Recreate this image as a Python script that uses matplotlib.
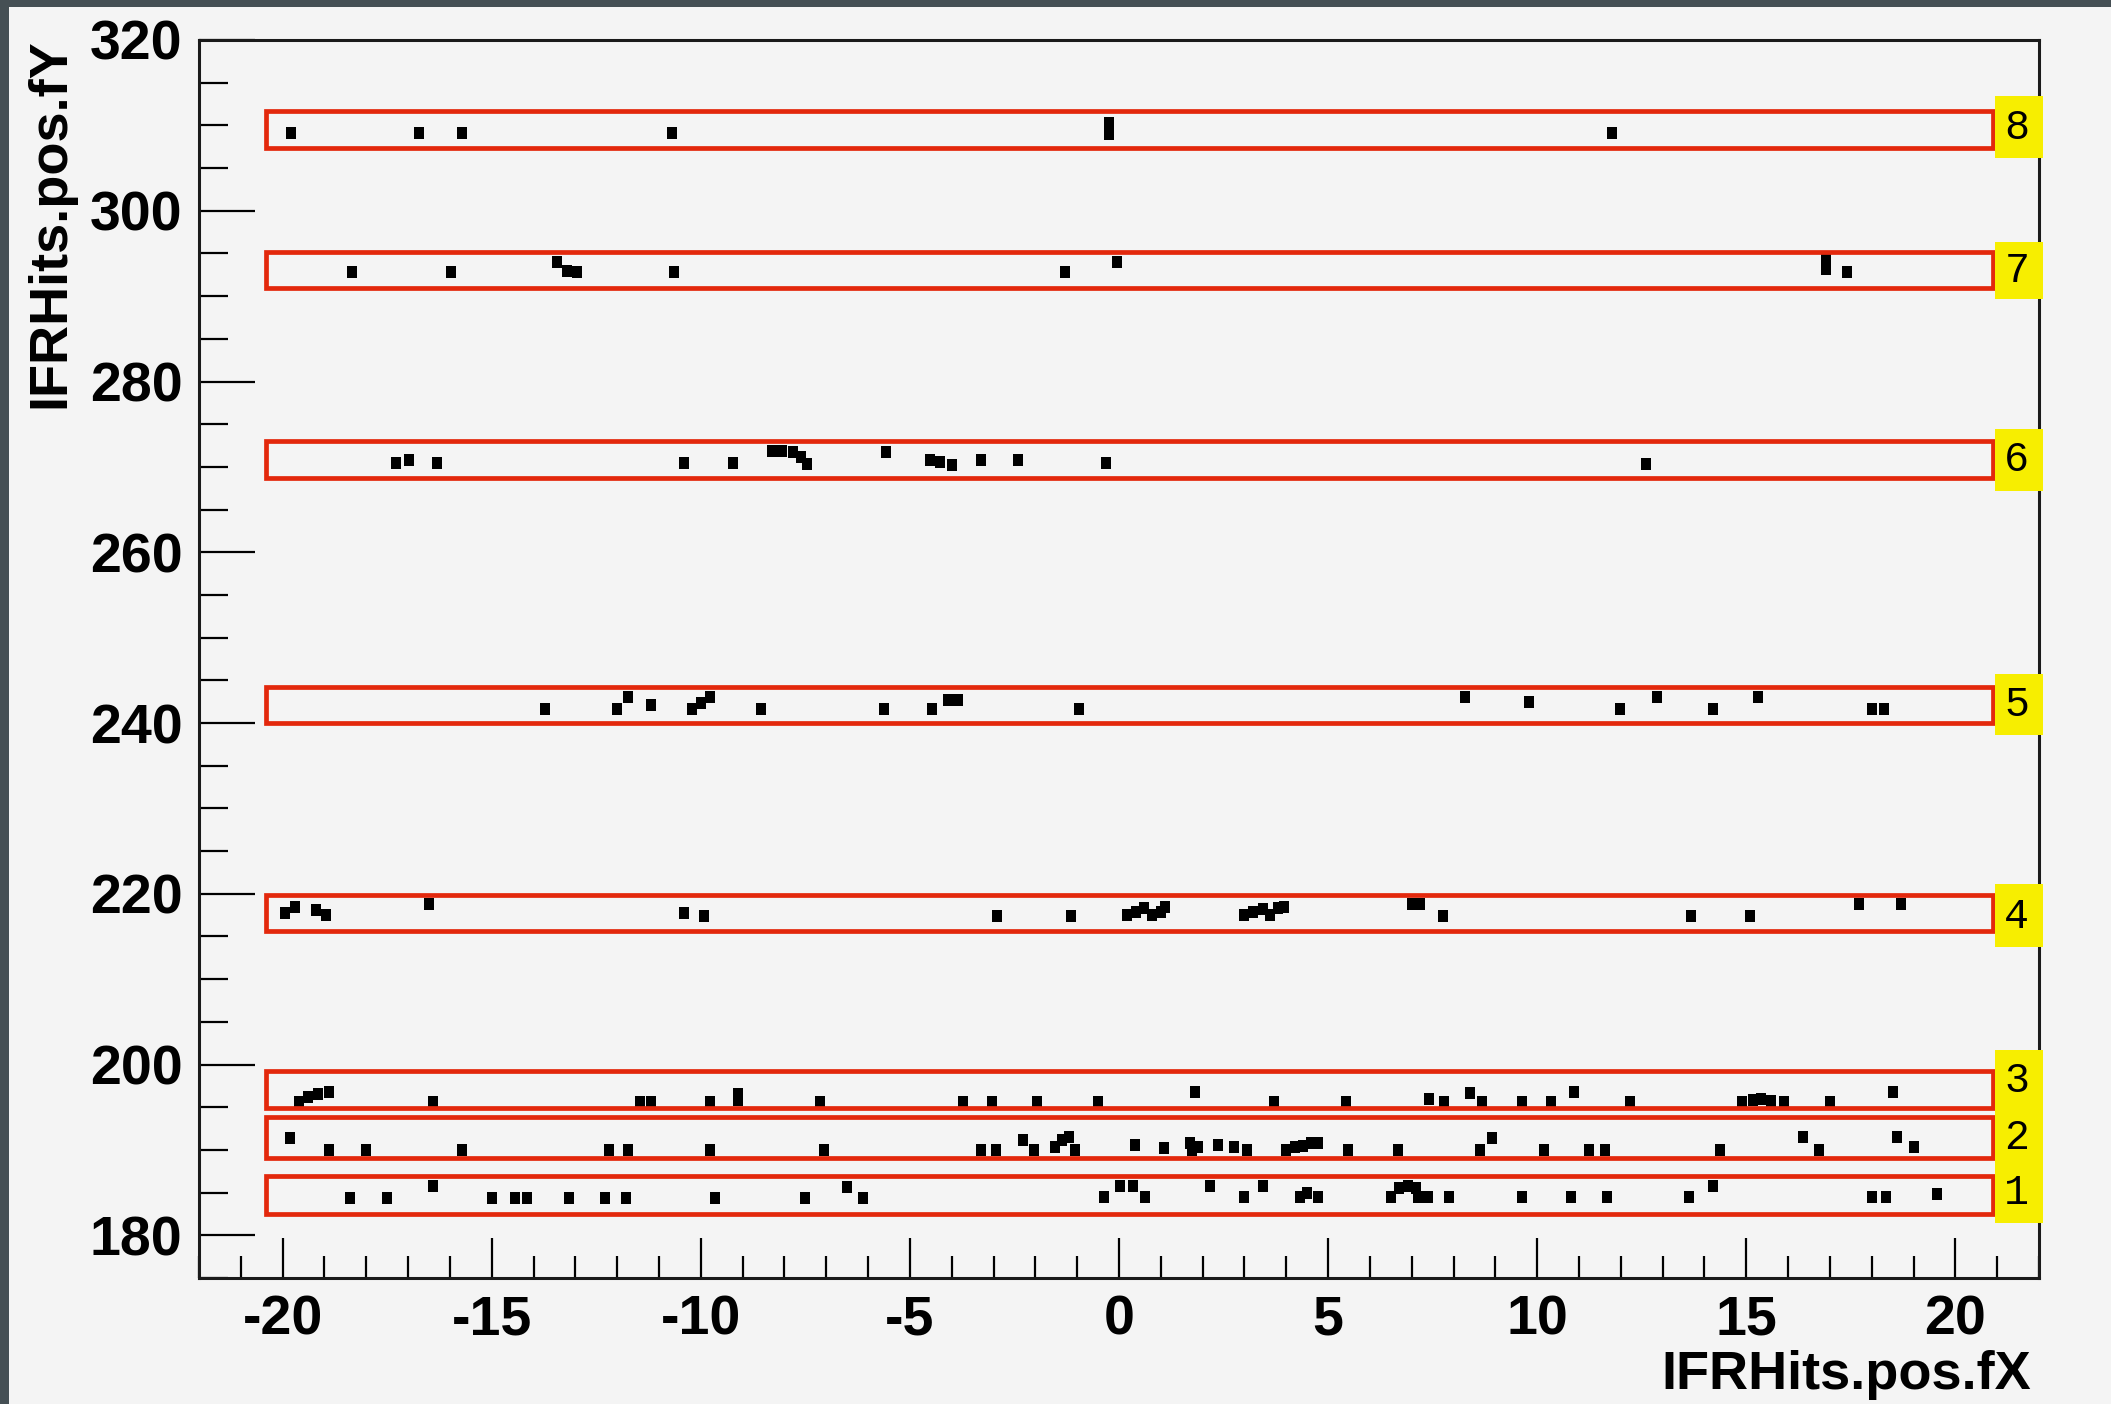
import matplotlib
matplotlib.use("Agg")
import matplotlib.pyplot as plt
from matplotlib.patches import Rectangle
from matplotlib.ticker import MultipleLocator

plt.rcParams['axes.unicode_minus'] = False
plt.rcParams['font.family'] = 'Liberation Sans'

# hits per IFR layer (x = IFRHits.pos.fX, y = IFRHits.pos.fY)
l8_x = [-19.8, -16.75, -15.7, -10.7, -0.24, -0.24, 11.8]
l8_y = [309.1, 309.1, 309.1, 309.1, 310.3, 309.0, 309.1]

l7_x = [-18.35, -15.97, -13.45, -13.2, -12.95, -10.65, -1.3, -0.05, 16.9, 16.9, 17.4]
l7_y = [292.8, 292.8, 294.0, 292.9, 292.8, 292.8, 292.8, 294.0, 294.2, 293.2, 292.8]

l6_x = [-17.3, -16.97, -16.3, -10.4, -9.24, -8.3, -8.05, -7.8, -7.6, -7.45,
        -5.56, -4.53, -4.27, -3.99, -3.29, -2.41, -0.31, 12.6]
l6_y = [270.5, 270.8, 270.4, 270.4, 270.4, 271.9, 271.9, 271.7, 271.2, 270.3,
        271.8, 270.8, 270.6, 270.2, 270.8, 270.8, 270.4, 270.3]

l5_x = [-13.72, -12.0, -11.74, -11.2, -10.2, -10.0, -9.77, -8.57, -5.63, -4.46,
        -4.1, -3.85, -0.95, 8.28, 9.81, 11.98, 12.86, 14.2, 15.27, 18.0, 18.3]
l5_y = [241.7, 241.7, 243.1, 242.1, 241.6, 242.3, 243.1, 241.7, 241.7, 241.7,
        242.7, 242.7, 241.7, 243.0, 242.5, 241.7, 243.0, 241.7, 243.0, 241.7, 241.7]

l4_x = [-19.95, -19.7, -19.2, -18.97, -16.5, -10.4, -9.93, -2.91, -1.14, 0.2,
        0.4, 0.6, 0.8, 1.0, 1.1, 3.0, 3.2, 3.45, 3.6, 3.8, 3.95, 7.0, 7.2,
        7.75, 13.68, 15.1, 17.7, 18.7]
l4_y = [217.8, 218.5, 218.1, 217.5, 218.8, 217.8, 217.4, 217.4, 217.4, 217.5,
        217.9, 218.3, 217.5, 217.9, 218.4, 217.5, 217.9, 218.2, 217.5, 218.3, 218.5, 218.8, 218.8,
        217.4, 217.4, 217.4, 218.8, 218.8]

l3_x = [-19.6, -19.4, -19.15, -18.9, -16.4, -11.45, -11.2, -9.77, -9.1, -9.1,
        -7.14, -3.72, -3.03, -1.96, -0.5, 1.81, 3.7, 5.42, 7.42, 7.78, 8.4,
        8.69, 9.64, 10.33, 10.88, 12.22, 14.9, 15.15, 15.35, 15.6, 15.9, 17.0, 18.5]
l3_y = [195.6, 196.2, 196.6, 196.8, 195.6, 195.6, 195.6, 195.6, 196.5, 195.8,
        195.6, 195.6, 195.6, 195.6, 195.6, 196.8, 195.6, 195.6, 196.0, 195.6, 196.7,
        195.6, 195.6, 195.6, 196.8, 195.6, 195.6, 195.9, 196.0, 195.7, 195.6, 195.6, 196.8]

l2_x = [-19.83, -18.9, -18.0, -15.7, -12.2, -11.74, -9.77, -7.06, -3.3, -2.94,
        -2.3, -2.03, -1.53, -1.36, -1.2, -1.05, 0.38, 1.07, 1.7, 1.9, 1.75,
        2.36, 2.75, 3.05, 4.0, 4.2, 4.4, 4.6, 4.75, 5.47, 6.68, 8.64, 8.92,
        10.17, 11.24, 11.62, 14.37, 16.35, 16.75, 18.6, 19.0]
l2_y = [191.4, 190.0, 190.0, 190.0, 190.0, 190.0, 190.0, 190.0, 190.0, 190.0,
        191.2, 190.0, 190.3, 191.2, 191.5, 190.0, 190.6, 190.2, 190.8, 190.3, 190.0,
        190.6, 190.4, 190.0, 190.0, 190.3, 190.5, 190.8, 190.8, 190.0, 190.0, 190.0, 191.4,
        190.0, 190.0, 190.0, 190.0, 191.5, 190.0, 191.5, 190.4]

l1_x = [-18.4, -17.5, -16.4, -15.0, -14.45, -14.15, -13.15, -12.3, -11.8, -9.67,
        -7.5, -6.5, -6.13, -0.36, 0.02, 0.33, 0.62, 2.17, 3.0, 3.44, 4.32, 4.5,
        4.75, 6.5, 6.7, 6.9, 7.1, 7.15, 7.4, 7.9, 9.64, 10.81, 11.67, 13.63,
        14.2, 18.0, 18.35, 19.55]
l1_y = [184.4, 184.4, 185.8, 184.4, 184.4, 184.4, 184.4, 184.4, 184.4, 184.4,
        184.4, 185.6, 184.4, 184.5, 185.8, 185.8, 184.5, 185.8, 184.5, 185.8, 184.5, 184.9,
        184.5, 184.5, 185.5, 185.8, 185.5, 184.5, 184.5, 184.5, 184.5, 184.5, 184.5, 184.5,
        185.8, 184.5, 184.5, 184.8]

layers_x = [l1_x, l2_x, l3_x, l4_x, l5_x, l6_x, l7_x, l8_x]
layers_y = [l1_y, l2_y, l3_y, l4_y, l5_y, l6_y, l7_y, l8_y]

# red layer boxes (bottom, top) and yellow tags
box_labels = ['1', '2', '3', '4', '5', '6', '7', '8']
box_lo = [182.5, 189.1, 194.9, 215.6, 240.0, 268.7, 291.0, 307.3]
box_hi = [186.9, 193.8, 199.3, 219.9, 244.2, 273.0, 295.2, 311.7]
label_y = [184.9, 191.4, 198.1, 217.3, 242.1, 270.8, 293.0, 309.7]
tag_lo = [181.5, 213.8, 238.6, 267.2, 289.7, 306.2]
tag_hi = [201.7, 221.1, 245.8, 274.4, 296.3, 313.4]

W, H = 2111, 1404
fig = plt.figure(figsize=(W / 100, H / 100), dpi=100)
fig.patch.set_facecolor('#454f54')
fig.add_artist(Rectangle((9 / W, 0), 1, 1 - 7 / H, transform=fig.transFigure,
                         facecolor='#f4f4f4', edgecolor='none', zorder=0))

ax = fig.add_axes([199 / W, 1 - 1278 / H, (2039 - 199) / W, (1278 - 40) / H])
ax.set_facecolor('#f4f4f4')
ax.set_xlim(-22, 22)
ax.set_ylim(175, 320)

# ROOT-style hit marker: a small box, a bit taller than wide
hit = [(-0.4, -0.5), (0.4, -0.5), (0.4, 0.5), (-0.4, 0.5)]
for xs, ys in zip(layers_x, layers_y):
    ax.plot(xs, ys, linestyle='none', marker=hit, color='black',
            markersize=8.5, markeredgewidth=0, zorder=4)

for lo, hi in zip(box_lo, box_hi):
    ax.add_patch(Rectangle((-20.4, lo), 41.3, hi - lo, fill=False,
                           edgecolor='#e3280c', linewidth=3.4, zorder=5))
for lo, hi in zip(tag_lo, tag_hi):
    ax.add_patch(Rectangle((20.95, lo), 1.15, hi - lo, facecolor='#f7ee00',
                           edgecolor='none', zorder=6, clip_on=False))
for lab, yy in zip(box_labels, label_y):
    ax.text(21.47, yy, lab, ha='center', va='center', fontsize=30,
            family='Liberation Mono', zorder=7, clip_on=False)

ax.xaxis.set_major_locator(MultipleLocator(5))
ax.xaxis.set_minor_locator(MultipleLocator(1))
ax.yaxis.set_major_locator(MultipleLocator(20))
ax.yaxis.set_minor_locator(MultipleLocator(5))
ax.tick_params(axis='x', which='major', direction='in', length=29, width=1.6,
               labelsize=40, pad=12, top=False)
ax.tick_params(axis='x', which='minor', direction='in', length=16, width=1.6, top=False)
ax.tick_params(axis='y', which='major', direction='in', length=40, width=1.6,
               labelsize=40, pad=12, right=False)
ax.tick_params(axis='y', which='minor', direction='in', length=21, width=1.6, right=False)
for lbl in ax.get_xticklabels() + ax.get_yticklabels():
    lbl.set_fontweight('bold')
for sp in ax.spines.values():
    sp.set_linewidth(2.2)
    sp.set_color('#1a1a1a')

fig.text(50 / W, 1 - 38 / H, 'IFRHits.pos.fY', rotation=90, ha='center', va='top',
         fontsize=39, fontweight='bold')
fig.text(2031 / W, 1 - 1375 / H, 'IFRHits.pos.fX', ha='right', va='center',
         fontsize=39, fontweight='bold')

fig.savefig('out.png', dpi=100, facecolor=fig.get_facecolor())
